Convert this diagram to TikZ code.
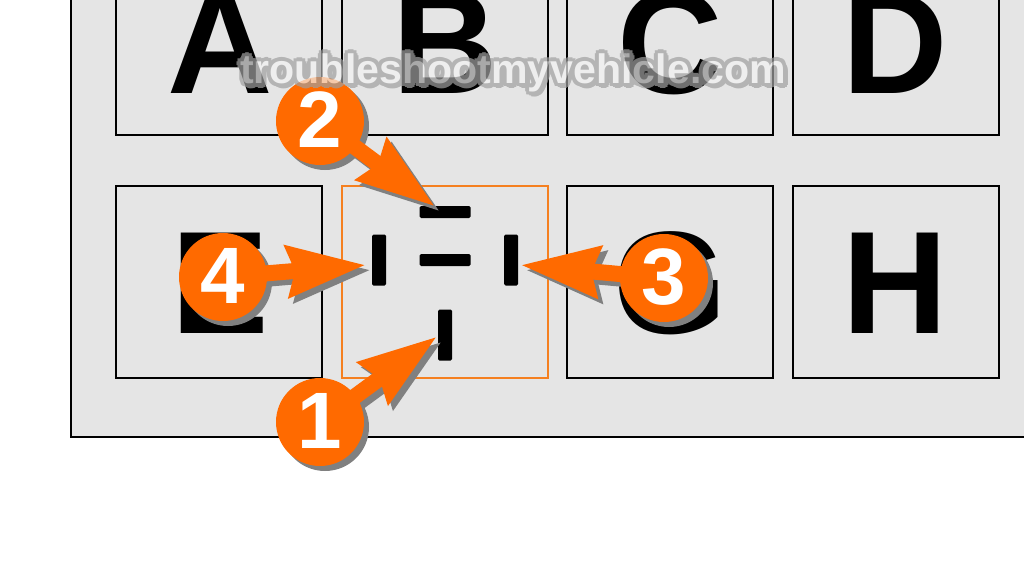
\documentclass[tikz,border=0pt]{standalone}
\usepackage{fontspec}
\setmainfont{Liberation Sans}
\usetikzlibrary{arrows.meta}
\definecolor{panelgray}{HTML}{E5E5E5}
\definecolor{tagorange}{HTML}{FF6A00}
\definecolor{slotorange}{HTML}{F58020}
\definecolor{shadegray}{HTML}{808080}
\definecolor{markgray}{HTML}{A0A0A0}
\definecolor{markfill}{HTML}{F2F2F2}
\tikzset{
	cell/.style={draw=black, line width=2pt},
	letter/.style={anchor=base, inner sep=0pt, font=\fontsize{146}{146}\selectfont\bfseries},
	terminal/.style={fill=black, rounded corners=1.5pt, inner sep=0pt},
	pointer/.style={draw=tagorange, line width=16pt, -{Stealth[length=78pt, width=50pt, inset=7pt]}},
	pointershade/.style={pointer, draw=shadegray, transform canvas={shift={(5pt,-5pt)}}},
	tag/.style={circle, fill=tagorange, minimum size=88pt, inner sep=0pt, text=white, text depth=3pt,
		font=\fontsize{80}{80}\selectfont\bfseries},
	tagshade/.style={fill=shadegray, transform canvas={shift={(5pt,-5pt)}}},
	sitemark/.style={anchor=base, inner sep=0pt, font=\fontsize{41.1}{41.1}\selectfont\bfseries}
}
\begin{document}
\begin{tikzpicture}[x=1pt, y=-1pt]
	\useasboundingbox (0,0) rectangle (1024,576);
	\clip (0,0) rectangle (1024,576);
	% panel
	\draw[cell, fill=panelgray] (71,-20) rectangle (1040,437);
	% upper row
	\draw[cell] (116,-20) rectangle (322,135);
	\draw[cell] (342,-20) rectangle (548,135);
	\draw[cell] (567,-20) rectangle (773,135);
	\draw[cell] (793,-20) rectangle (999,135);
	% lower row
	\draw[cell] (116,186) rectangle (322,378);
	\draw[cell] (567,186) rectangle (773,378);
	\draw[cell] (793,186) rectangle (999,378);
	\draw[cell, draw=slotorange] (342,186) rectangle (548,378);
	\path
	(220,93) node[letter] (letterA) {A}
	(445,93) node[letter] (letterB) {B}
	(670,93) node[letter] (letterC) {C}
	(895,93) node[letter] (letterD) {D}
	(220,333) node[letter] (letterE) {E}
	(670,333) node[letter] (letterG) {G}
	(895,333) node[letter] (letterH) {H}
	;
	% terminals
	\path
	(445,212) node[terminal, minimum width=51pt, minimum height=12pt] (pinTop) {}
	(445,260) node[terminal, minimum width=51pt, minimum height=12pt] (pinMid) {}
	(379,260) node[terminal, minimum width=14pt, minimum height=51pt] (pinLeft) {}
	(511,260) node[terminal, minimum width=14pt, minimum height=51pt] (pinRight) {}
	(445,335) node[terminal, minimum width=14pt, minimum height=51pt] (pinLow) {}
	;
	% where the pointers start and end
	\coordinate (spotA) at (320,422);
	\coordinate (spotB) at (320,121);
	\coordinate (spotC) at (664,278);
	\coordinate (spotD) at (223,277);
	\coordinate (tipA) at (437,336.5);
	\coordinate (tipB) at (435,206.5);
	\coordinate (tipC) at (520.5,265);
	\coordinate (tipD) at (366,265);
	% shadows
	\draw[pointershade] (spotA) -- (tipA);
	\draw[pointershade] (spotB) -- (tipB);
	\draw[pointershade] (spotC) -- (tipC);
	\draw[pointershade] (spotD) -- (tipD);
	\fill[tagshade] (spotA) circle (44);
	\fill[tagshade] (spotB) circle (44);
	\fill[tagshade] (spotC) circle (44);
	\fill[tagshade] (spotD) circle (44);
	% pointers
	\draw[pointer] (spotA) -- (tipA);
	\draw[pointer] (spotB) -- (tipB);
	\draw[pointer] (spotC) -- (tipC);
	\draw[pointer] (spotD) -- (tipD);
	\node[tag] (tagA) at (spotA) {1};
	\node[tag] (tagB) at (spotB) {2};
	\node[tag] (tagC) at (spotC) {3};
	\node[tag] (tagD) at (spotD) {4};
	% site name
	\begin{scope}[transparency group, opacity=0.7]
		\foreach \dx/\dy in {4/0,3/3,0/4,-3/3,-4/0,-3/-3,0/-4,3/-3,4/4,2/5,5/2}
			\node[sitemark, text=markgray] at (513+\dx,83+\dy) {troubleshootmyvehicle.com};
		\node[sitemark, text=markfill] (siteName) at (513,83) {troubleshootmyvehicle.com};
	\end{scope}
\end{tikzpicture}
\end{document}
